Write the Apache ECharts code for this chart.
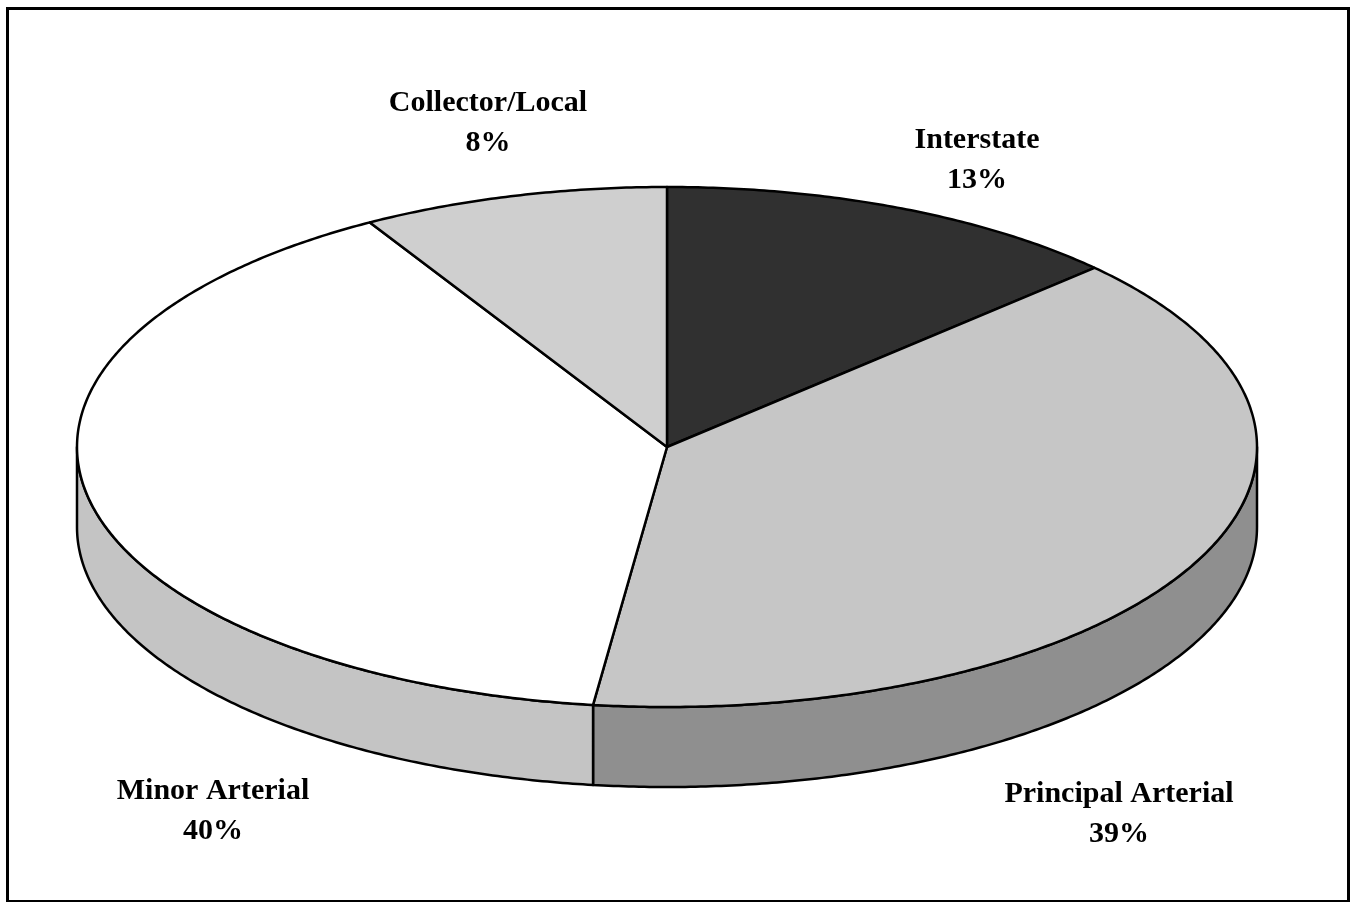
<!DOCTYPE html>
<html>
<head>
<meta charset="utf-8">
<script src="https://cdn.jsdelivr.net/npm/echarts@6/dist/echarts.min.js"></script>
<style>html,body{margin:0;padding:0;background:#fff}#chart{width:1351px;height:902px}</style>
</head>
<body>
<div id="chart"></div>
<script>
// data (shares; labels show them rounded)
const categories = ['Interstate', 'Principal Arterial', 'Minor Arterial', 'Collector/Local']
const shares = [12.9, 39.1, 39.6, 8.4]

// styles / layout
const topColors = ['#303030', '#c6c6c6', '#ffffff', '#cfcfcf']
const sideColors = ['#222222', '#8f8f8f', '#c4c4c4', '#a8a8a8']
const labelAnchor = {
  'Interstate': [977, 160],
  'Principal Arterial': [1119, 814],
  'Minor Arterial': [213, 811],
  'Collector/Local': [488, 123]
}
const pie = { cx: 667, cy: 447, rx: 590, ry: 260, depth: 80 }

const total = shares.reduce((a, b) => a + b, 0)
let acc = 0
const sliceData = shares.map((v, i) => {
  const start = acc / total * 360
  acc += v
  return { name: categories[i], value: [start, acc / total * 360, v] }
})

const pt = (deg, dy) => {
  const r = deg * Math.PI / 180
  return [pie.cx + pie.rx * Math.sin(r), pie.cy - pie.ry * Math.cos(r) + (dy || 0)]
}
const arc = (a, b, dy) => {
  const pts = []
  const n = Math.max(2, Math.ceil((b - a) / 0.5))
  for (let k = 0; k <= n; k++) pts.push(pt(a + (b - a) * k / n, dy))
  return pts
}

const renderSide = (params, api) => {
  const a = Math.max(api.value(0), 90), b = Math.min(api.value(1), 270)
  if (b <= a) return null
  const top = arc(a, b, 0)
  const bottom = arc(a, b, pie.depth).reverse()
  return {
    type: 'polygon',
    shape: { points: top.concat(bottom) },
    style: { fill: sideColors[params.dataIndex], stroke: '#000', lineWidth: 2.5, lineJoin: 'round' }
  }
}

const renderTop = (params, api) => {
  const a = api.value(0), b = api.value(1)
  const name = categories[params.dataIndex]
  const pos = labelAnchor[name]
  return {
    type: 'group',
    children: [{
      type: 'polygon',
      shape: { points: [[pie.cx, pie.cy]].concat(arc(a, b, 0)) },
      style: { fill: topColors[params.dataIndex], stroke: '#000', lineWidth: 2.5, lineJoin: 'round' }
    }, {
      type: 'text',
      x: pos[0], y: pos[1],
      style: {
        text: name + '\n' + Math.round(api.value(2)) + '%',
        font: 'bold 30px "Liberation Serif", "Times New Roman", serif',
        lineHeight: 40,
        fill: '#000',
        align: 'center',
        verticalAlign: 'middle'
      }
    }]
  }
}

const chart = echarts.init(document.getElementById('chart'), null, { renderer: 'canvas' })
chart.setOption({
  backgroundColor: '#fff',
  animation: false,
  graphic: [{
    type: 'rect', z: 0,
    shape: { x: 7.5, y: 8.5, width: 1341, height: 893 },
    style: { fill: 'none', stroke: '#000', lineWidth: 3 }
  }],
  series: [
    { type: 'custom', coordinateSystem: 'none', z: 1, renderItem: renderSide, data: sliceData, silent: true },
    { type: 'custom', coordinateSystem: 'none', z: 2, renderItem: renderTop, data: sliceData, silent: true }
  ]
})
</script>
</body>
</html>
